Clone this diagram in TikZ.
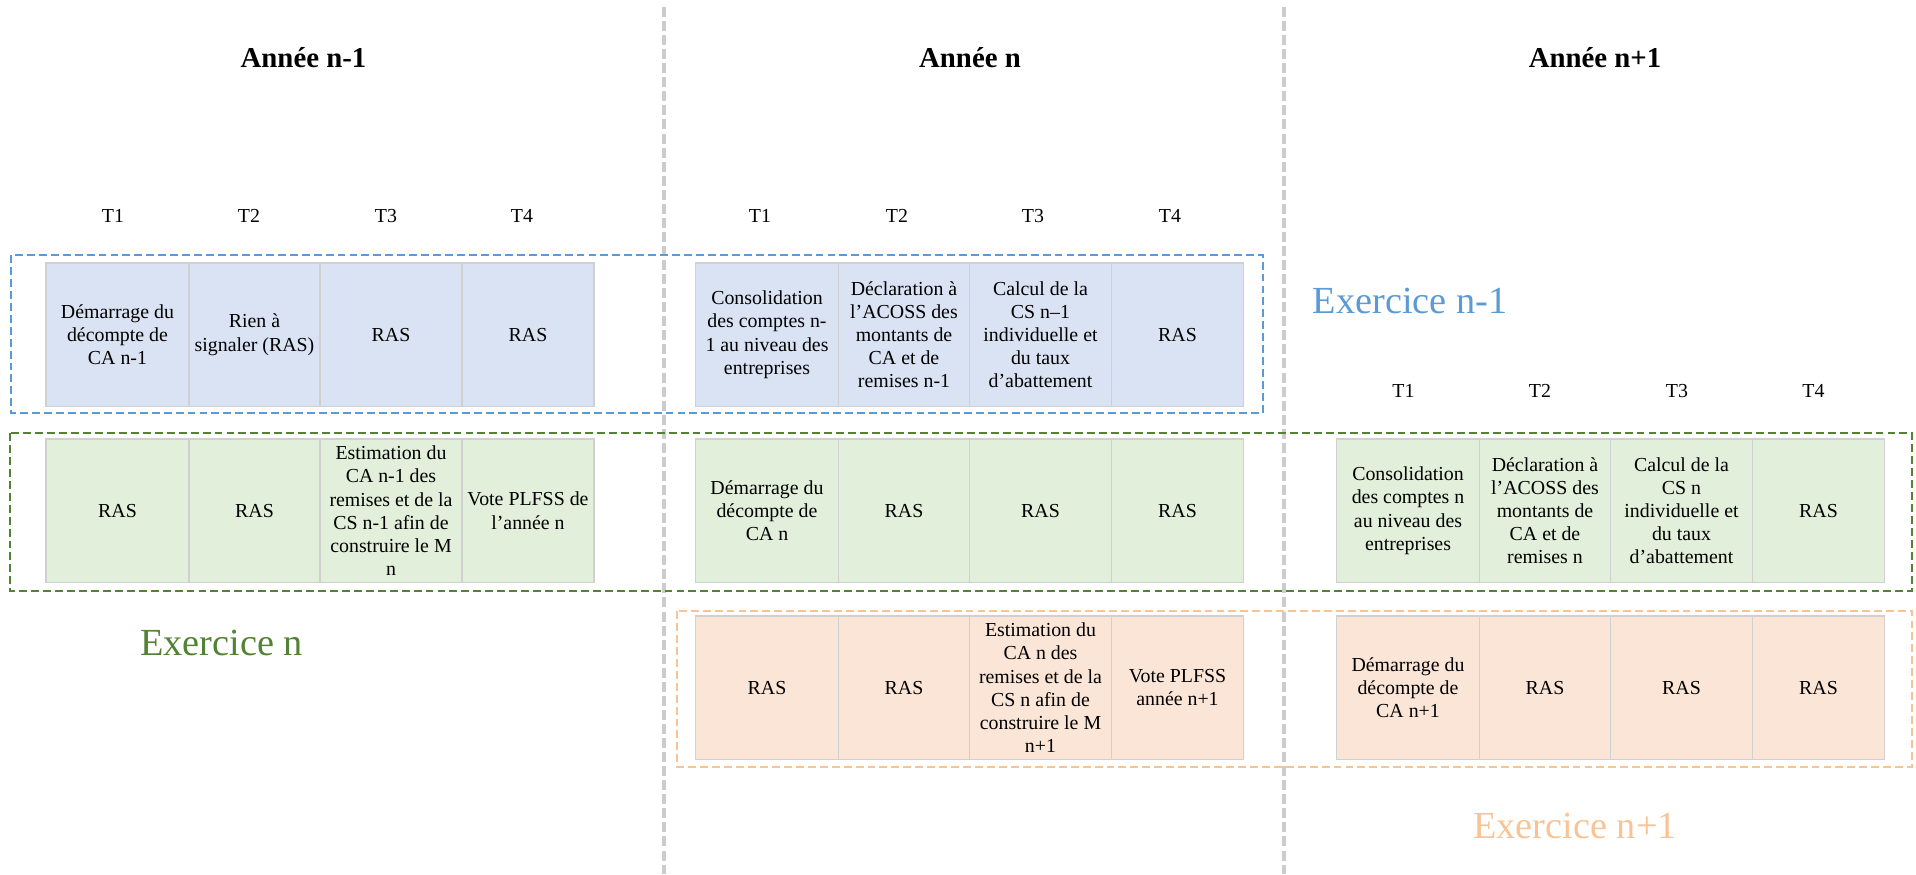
\documentclass[tikz,border=0pt]{standalone}
\usepackage{fontspec}
\setmainfont{Liberation Serif}
\usepackage{tikz}
\usepackage{xcolor}
\definecolor{exbleu}{RGB}{91,155,213}
\definecolor{exvert}{RGB}{84,130,53}
\definecolor{exorange}{RGB}{248,196,150}
\definecolor{fondbleu}{RGB}{218,227,243}
\definecolor{fondvert}{RGB}{226,239,218}
\definecolor{fondorange}{RGB}{251,229,214}
\definecolor{bord}{RGB}{208,208,208}
\definecolor{gristrait}{RGB}{204,204,204}
\tikzset{
  cell/.style={draw=bord,line width=0.8pt,anchor=north west,minimum height=2.87cm,
    inner sep=1pt,outer sep=0pt,align=center,font=\fontsize{11.3}{13.2}\selectfont},
  cellb/.style={cell,fill=fondbleu},
  cellv/.style={cell,fill=fondvert},
  cello/.style={cell,fill=fondorange},
  cadre/.style={line width=1.3pt,dash pattern=on 4.5pt off 2.3pt},
  trim/.style={anchor=base,font=\fontsize{11.3}{13.2}\selectfont},
  annee/.style={anchor=base,font=\fontsize{16.4}{19}\selectfont\bfseries},
  exo/.style={anchor=base,font=\fontsize{21.8}{26}\selectfont},
}

\begin{document}
\begin{tikzpicture}
    \useasboundingbox (0,0) rectangle (38.32,17.48);
    % separations entre annees
    \draw[gristrait,line width=1.9pt,dash pattern=on 5.7pt off 2.3pt] (13.28,17.34) -- (13.28,0);
    \draw[gristrait,line width=1.9pt,dash pattern=on 5.7pt off 2.3pt] (25.68,17.34) -- (25.68,0);

    \node[annee] (an1) at (6.07,16.12) {Année n-1};
    \node[annee] (an) at (19.4,16.12) {Année n};
    \node[annee] (ap1) at (31.9,16.12) {Année n+1};

    \node[trim] (ta1) at (2.26,13.03) {T1};
    \node[trim] (ta2) at (4.98,13.03) {T2};
    \node[trim] (ta3) at (7.72,13.03) {T3};
    \node[trim] (ta4) at (10.44,13.03) {T4};
    \node[trim] (tb1) at (15.2,13.03) {T1};
    \node[trim] (tb2) at (17.94,13.03) {T2};
    \node[trim] (tb3) at (20.66,13.03) {T3};
    \node[trim] (tb4) at (23.4,13.03) {T4};
    \node[trim] (tc1) at (28.07,9.53) {T1};
    \node[trim] (tc2) at (30.8,9.53) {T2};
    \node[trim] (tc3) at (33.54,9.53) {T3};
    \node[trim] (tc4) at (36.27,9.53) {T4};

    % exercice n-1
    \node[cellb,minimum width=2.86cm] (b11) at (0.92,12.22) {Démarrage du\\décompte de\\CA n-1};
    \node[cellb,minimum width=2.62cm] (b12) at (3.78,12.22) {Rien à\\signaler (RAS)};
    \node[cellb,minimum width=2.84cm] (b13) at (6.40,12.22) {RAS};
    \node[cellb,minimum width=2.64cm] (b14) at (9.24,12.22) {RAS};
    \node[cellb,minimum width=2.86cm] (b21) at (13.91,12.22) {Consolidation\\des comptes n-\\1 au niveau des\\entreprises};
    \node[cellb,minimum width=2.62cm] (b22) at (16.77,12.22) {Déclaration à\\l’ACOSS des\\montants de\\CA et de\\remises n-1};
    \node[cellb,minimum width=2.84cm] (b23) at (19.39,12.22) {Calcul de la\\CS n–1\\individuelle et\\du taux\\d’abattement};
    \node[cellb,minimum width=2.64cm] (b24) at (22.23,12.22) {RAS};
    \draw[cadre,exbleu] (0.22,12.38) rectangle (25.26,9.22);
    \node[exo,exbleu] (exb) at (28.2,11.21) {Exercice n-1};

    % exercice n
    \node[cellv,minimum width=2.86cm] (v11) at (0.92,8.7) {RAS};
    \node[cellv,minimum width=2.62cm] (v12) at (3.78,8.7) {RAS};
    \node[cellv,minimum width=2.84cm] (v13) at (6.40,8.7) {Estimation du\\CA n-1 des\\remises et de la\\CS n-1 afin de\\construire le M\\n};
    \node[cellv,minimum width=2.64cm] (v14) at (9.24,8.7) {Vote PLFSS de\\l’année n};
    \node[cellv,minimum width=2.86cm] (v21) at (13.91,8.7) {Démarrage du\\décompte de\\CA n};
    \node[cellv,minimum width=2.62cm] (v22) at (16.77,8.7) {RAS};
    \node[cellv,minimum width=2.84cm] (v23) at (19.39,8.7) {RAS};
    \node[cellv,minimum width=2.64cm] (v24) at (22.23,8.7) {RAS};
    \node[cellv,minimum width=2.86cm] (v31) at (26.73,8.7) {Consolidation\\des comptes n\\au niveau des\\entreprises};
    \node[cellv,minimum width=2.62cm] (v32) at (29.59,8.7) {Déclaration à\\l’ACOSS des\\montants de\\CA et de\\remises n};
    \node[cellv,minimum width=2.84cm] (v33) at (32.21,8.7) {Calcul de la\\CS n\\individuelle et\\du taux\\d’abattement};
    \node[cellv,minimum width=2.64cm] (v34) at (35.05,8.7) {RAS};
    \draw[cadre,exvert] (0.2,8.82) rectangle (38.24,5.66);
    \node[exo,exvert] (exv) at (4.43,4.38) {Exercice n};

    % exercice n+1
    \node[cello,minimum width=2.86cm] (o21) at (13.91,5.16) {RAS};
    \node[cello,minimum width=2.62cm] (o22) at (16.77,5.16) {RAS};
    \node[cello,minimum width=2.84cm] (o23) at (19.39,5.16) {Estimation du\\CA n des\\remises et de la\\CS n afin de\\construire le M\\n+1};
    \node[cello,minimum width=2.64cm] (o24) at (22.23,5.16) {Vote PLFSS\\année n+1};
    \node[cello,minimum width=2.86cm] (o31) at (26.73,5.16) {Démarrage du\\décompte de\\CA n+1};
    \node[cello,minimum width=2.62cm] (o32) at (29.59,5.16) {RAS};
    \node[cello,minimum width=2.84cm] (o33) at (32.21,5.16) {RAS};
    \node[cello,minimum width=2.64cm] (o34) at (35.05,5.16) {RAS};
    \draw[cadre,exorange] (13.54,5.26) rectangle (38.24,2.14);
    \node[exo,exorange] (exo1) at (31.5,0.713) {Exercice n+1};
  \end{tikzpicture}
\end{document}
